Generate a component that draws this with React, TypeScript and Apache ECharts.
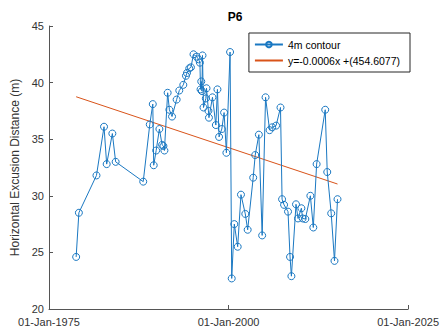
import React, { useEffect, useRef } from "react";
import * as echarts from "echarts";

const years = [
  1978.78, 1979.16, 1981.61, 1982.66, 1983.03, 1983.82, 1984.28, 1988.12, 1989.03, 1989.45,
  1989.58, 1989.92, 1990.37, 1990.75, 1990.93, 1991.07, 1991.52, 1991.76, 1992.13, 1992.77,
  1993.14, 1993.7, 1994.07, 1994.21, 1994.53, 1994.76, 1995.12, 1995.54, 1995.82, 1996.01,
  1996.1, 1996.2, 1996.29, 1996.37, 1996.51, 1996.84, 1996.93, 1997.2, 1997.27, 1997.76,
  1998.23, 1998.45, 1998.68, 1999.06, 1999.38, 1999.7, 2000.21, 2000.44, 2000.8, 2001.27,
  2001.73, 2002.33, 2002.66, 2003.43, 2003.71, 2004.22, 2004.68, 2005.15, 2005.71, 2006.07,
  2006.62, 2007.23, 2007.45, 2007.73, 2008.28, 2008.56, 2008.75, 2009.39, 2009.67, 2010.14,
  2010.32, 2010.69, 2011.39, 2011.8, 2012.26, 2013.46, 2013.74, 2014.29, 2014.75, 2015.17,
];
const distances = [
  24.6, 28.5, 31.8, 36.1, 32.8, 35.5, 33.0, 31.25, 36.3, 38.1,
  32.7, 34.0, 35.9, 34.5, 34.4, 34.0, 39.1, 37.6, 37.0, 38.5,
  39.3, 39.8, 40.6, 40.85, 41.26, 41.35, 42.5, 42.3, 42.06, 41.76,
  39.4, 40.1, 39.25, 42.4, 37.8, 38.6, 39.5, 37.5, 36.9, 38.7,
  36.25, 39.4, 35.2, 35.9, 37.35, 33.8, 42.7, 22.7, 27.5, 25.5,
  30.1, 28.4, 27.0, 31.6, 33.6, 35.4, 26.5, 38.7, 35.8, 36.05,
  36.2, 37.8, 29.7, 29.2, 28.6, 24.6, 22.9, 29.25, 28.0, 28.9,
  28.0, 27.95, 30.0, 27.2, 32.8, 37.6, 32.1, 28.45, 24.25, 29.7,
];
const trendYears = [1978.78, 2015.17];
const trendValues = [38.75, 31.04];
const xTicks = [1975, 2000, 2025];
const seriesNames = ["4m contour", "y=-0.0006x +(454.6077)"];

const BLUE = "#1a78c2";
const ORANGE = "#D95319";
const AXIS = "#555555";
const TEXT = "#333333";
const FONT = "Liberation Sans, Arial, sans-serif";

export default function App() {
  const ref = useRef<HTMLDivElement>(null);
  useEffect(() => {
    if (!ref.current) return;
    document.body.style.margin = "0";
    document.body.style.overflow = "hidden";
    const chart = echarts.init(ref.current, undefined, { renderer: "svg" });
    chart.setOption({
      animation: false,
      backgroundColor: "#ffffff",
      textStyle: { fontFamily: FONT },
      title: {
        text: "P6",
        left: 230,
        textAlign: "center",
        top: 6,
        textStyle: { fontSize: 12, fontWeight: "bold", color: "#000", fontFamily: FONT },
      },
      grid: { left: 49, right: 32, top: 26, bottom: 24, containLabel: false },
      legend: {
        orient: "vertical",
        right: 32,
        top: 33,
        data: [
          { name: seriesNames[0] },
          { name: seriesNames[1], itemStyle: { opacity: 0 } },
        ],
        itemWidth: 28,
        itemHeight: 7,
        itemGap: 5,
        padding: [6, 10, 6, 5],
        borderColor: "#262626",
        borderWidth: 1,
        backgroundColor: "#ffffff",
        textStyle: { fontSize: 10.5, color: "#000", fontFamily: FONT },
      },
      xAxis: {
        type: "value",
        min: xTicks[0],
        max: xTicks[xTicks.length - 1],
        interval: 25,
        axisLine: { show: true, lineStyle: { color: AXIS, width: 1 } },
        axisTick: { show: true, inside: true, length: 4, lineStyle: { color: AXIS } },
        splitLine: { show: false },
        axisLabel: {
          color: TEXT,
          fontSize: 11,
          margin: 7,
          fontFamily: FONT,
          formatter: (v: number) => "01-Jan-" + v,
        },
      },
      yAxis: {
        type: "value",
        min: 20,
        max: 45,
        interval: 5,
        name: "Horizontal Excusion Distance (m)",
        nameLocation: "middle",
        nameGap: 21,
        nameTextStyle: { fontSize: 12, color: TEXT, fontFamily: FONT },
        axisLine: { show: true, lineStyle: { color: AXIS, width: 1 } },
        axisTick: { show: true, inside: true, length: 4, lineStyle: { color: AXIS } },
        splitLine: { show: false },
        axisLabel: { color: TEXT, fontSize: 11, margin: 5, fontFamily: FONT },
      },
      series: [
        {
          name: seriesNames[0],
          type: "line",
          data: years.map((y, i) => [y, distances[i]]),
          symbol: "circle",
          symbolSize: 7,
          showSymbol: true,
          lineStyle: { color: BLUE, width: 1 },
          itemStyle: { color: "rgba(255,255,255,0)", borderColor: BLUE, borderWidth: 1 },
          z: 3,
        },
        {
          name: seriesNames[1],
          type: "line",
          data: trendYears.map((y, i) => [y, trendValues[i]]),
          symbol: "none",
          showSymbol: false,
          lineStyle: { color: ORANGE, width: 1 },
          itemStyle: { color: ORANGE },
          z: 2,
        },
      ],
    });
    return () => chart.dispose();
  }, []);
  return (
    <div
      ref={ref}
      style={{ position: "fixed", left: 0, top: 0, width: 442, height: 333 }}
    />
  );
}
